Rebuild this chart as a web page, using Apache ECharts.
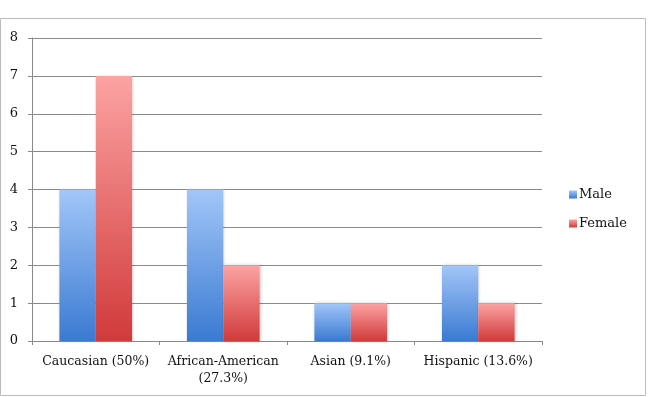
<!DOCTYPE html>
<html>
<head>
<meta charset="utf-8">
<script src="https://cdn.jsdelivr.net/npm/echarts@6/dist/echarts.min.js"></script>
<style>
  html, body { margin: 0; padding: 0; background: #fff; }
  #chart { width: 651px; height: 397px; }
</style>
</head>
<body>
<div id="chart"></div>
<script>
// data
const categories = ["Caucasian (50%)", "African-American\n(27.3%)", "Asian (9.1%)", "Hispanic (13.6%)"];
const maleValues = [4, 4, 1, 2];
const femaleValues = [7, 2, 1, 1];
const yTicks = [0, 1, 2, 3, 4, 5, 6, 7, 8];

const chart = echarts.init(document.getElementById("chart"));

function grad(top, bottom) {
  return new echarts.graphic.LinearGradient(0, 0, 0, 1, [
    { offset: 0, color: top },
    { offset: 1, color: bottom }
  ]);
}

const font = "DejaVu Serif";
const maleColor = grad("#a2c6f8", "#3a7ad2");
const femaleColor = grad("#fca3a3", "#d13a3a");

const option = {
  animation: false,
  textStyle: { fontFamily: font },
  graphic: [{
    type: "rect",
    shape: { x: 0.5, y: 18.5, width: 645, height: 377 },
    style: { fill: "none", stroke: "#bcbcbc", lineWidth: 1 },
    silent: true
  }],
  grid: { left: 32, right: 109, top: 38, bottom: 56 },
  legend: {
    orient: "vertical",
    left: 569,
    top: 188,
    padding: 0,
    itemWidth: 8,
    itemHeight: 8,
    itemGap: 16,
    icon: "rect",
    textStyle: { fontFamily: font, fontSize: 13, color: "#111", padding: [0, 0, 0, -3] },
    data: ["Male", "Female"]
  },
  xAxis: {
    type: "category",
    data: categories,
    axisLine: { lineStyle: { color: "#8a8a8a" } },
    axisTick: { show: true, length: 4, lineStyle: { color: "#8a8a8a" } },
    axisLabel: { color: "#111", fontSize: 12.5, margin: 12, lineHeight: 17, fontFamily: font, interval: 0 }
  },
  yAxis: {
    type: "value",
    min: yTicks[0],
    max: yTicks[yTicks.length - 1],
    interval: 1,
    axisLine: { show: true, lineStyle: { color: "#8a8a8a" } },
    axisTick: { show: true, length: 4, lineStyle: { color: "#8a8a8a" } },
    splitLine: { lineStyle: { color: "#8a8a8a" } },
    axisLabel: { color: "#111", fontSize: 13, margin: 14, fontFamily: font }
  },
  series: [
    {
      name: "Male",
      type: "bar",
      data: maleValues,
      barGap: "0%",
      barCategoryGap: "43%",
      itemStyle: {
        color: maleColor,
        shadowBlur: 3,
        shadowColor: "rgba(0,0,0,0.2)",
        shadowOffsetX: 1
      }
    },
    {
      name: "Female",
      type: "bar",
      data: femaleValues,
      itemStyle: {
        color: femaleColor,
        shadowBlur: 3,
        shadowColor: "rgba(0,0,0,0.2)",
        shadowOffsetX: 1
      }
    }
  ]
};

chart.setOption(option);
</script>
</body>
</html>
